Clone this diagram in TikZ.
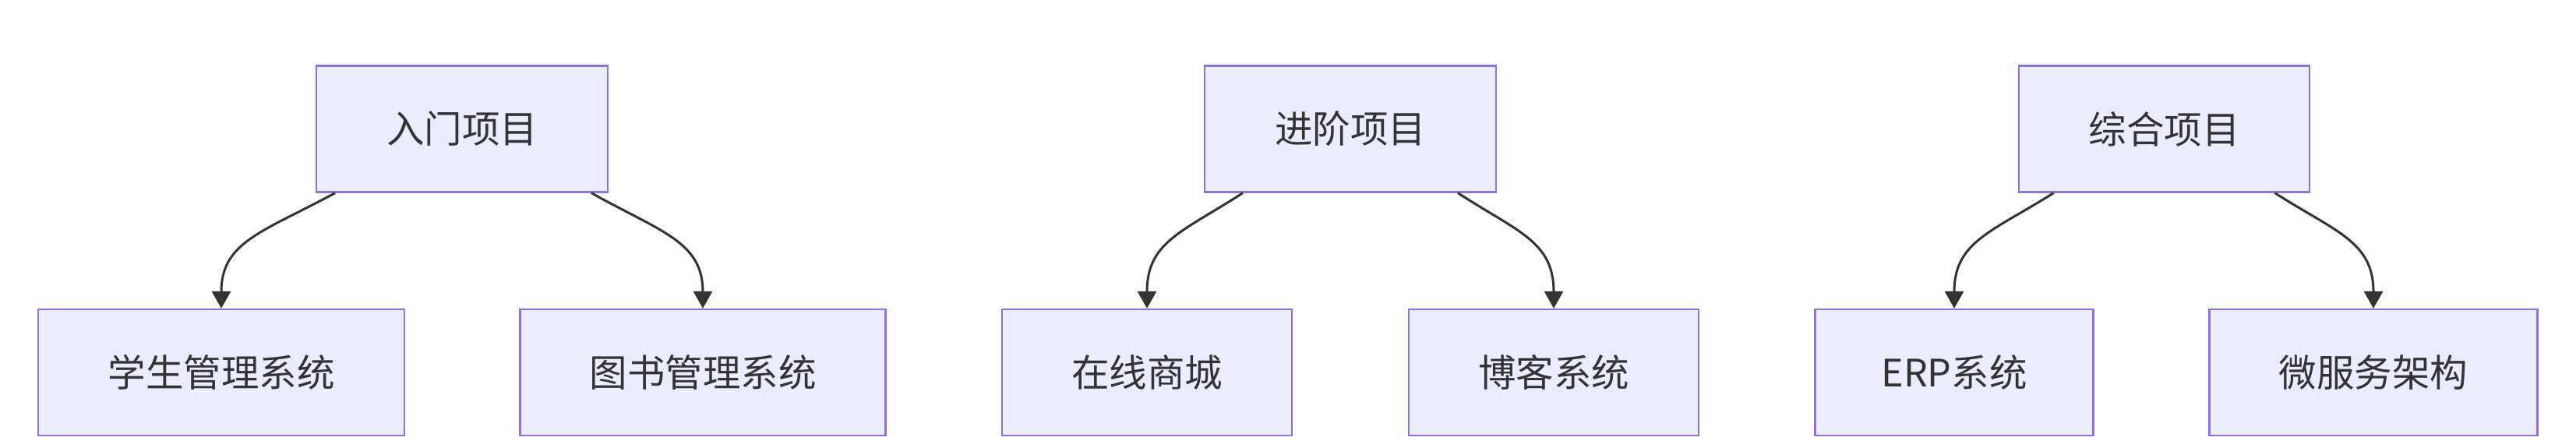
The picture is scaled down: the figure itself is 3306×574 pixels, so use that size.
\documentclass[tikz,border=0pt]{standalone}
\usepackage{fontspec}
\newfontfamily\cjk{Noto Sans CJK SC}
\usetikzlibrary{arrows.meta,calc}
\definecolor{boxfill}{HTML}{ECECFF}
\definecolor{boxline}{HTML}{9370DB}
\definecolor{ink}{HTML}{333333}
\tikzset{
  proj/.style={draw=boxline, fill=boxfill, line width=2.3pt, rectangle,
    minimum height=162pt, inner sep=0pt, text=ink,
    font=\cjk\fontsize{48.5}{56}\selectfont},
  edge/.style={draw=ink, line width=3pt, -{Triangle[length=22pt,width=24pt]}}
}
\begin{document}
\begin{tikzpicture}[x=1pt,y=-1pt]
\useasboundingbox (0,0) rectangle (3306,574);
% top row
\node[proj, minimum width=374pt] (a) at (593,165.5) {入门项目};
\node[proj, minimum width=374pt] (b) at (1733,165.5) {进阶项目};
\node[proj, minimum width=373pt] (c) at (2777.5,165.5) {综合项目};
% bottom row
\node[proj, minimum width=470pt] (a1) at (284,478) {学生管理系统};
\node[proj, minimum width=469pt] (a2) at (902,478) {图书管理系统};
\node[proj, minimum width=372pt] (b1) at (1472,478) {在线商城};
\node[proj, minimum width=372pt] (b2) at (1994,478) {博客系统};
\node[proj, minimum width=357pt] (c1) at (2508,478) {ERP系统};
\node[proj, minimum width=421pt] (c2) at (3046,478) {微服务架构};
% edges
\draw[edge] ($(a.south)+(-163,0)$) .. controls ($(a.south)+(-255,50)$) and ($(a1.north)+(0,-86)$) .. (a1.north);
\draw[edge] ($(a.south)+(166,0)$) .. controls ($(a.south)+(255,50)$) and ($(a2.north)+(0,-86)$) .. (a2.north);
\draw[edge] ($(b.south)+(-138,0)$) .. controls ($(b.south)+(-215,50)$) and ($(b1.north)+(0,-86)$) .. (b1.north);
\draw[edge] ($(b.south)+(138,0)$) .. controls ($(b.south)+(215,50)$) and ($(b2.north)+(0,-86)$) .. (b2.north);
\draw[edge] ($(c.south)+(-142,0)$) .. controls ($(c.south)+(-221,50)$) and ($(c1.north)+(0,-86)$) .. (c1.north);
\draw[edge] ($(c.south)+(142,0)$) .. controls ($(c.south)+(220,50)$) and ($(c2.north)+(0,-86)$) .. (c2.north);
\end{tikzpicture}
\end{document}
